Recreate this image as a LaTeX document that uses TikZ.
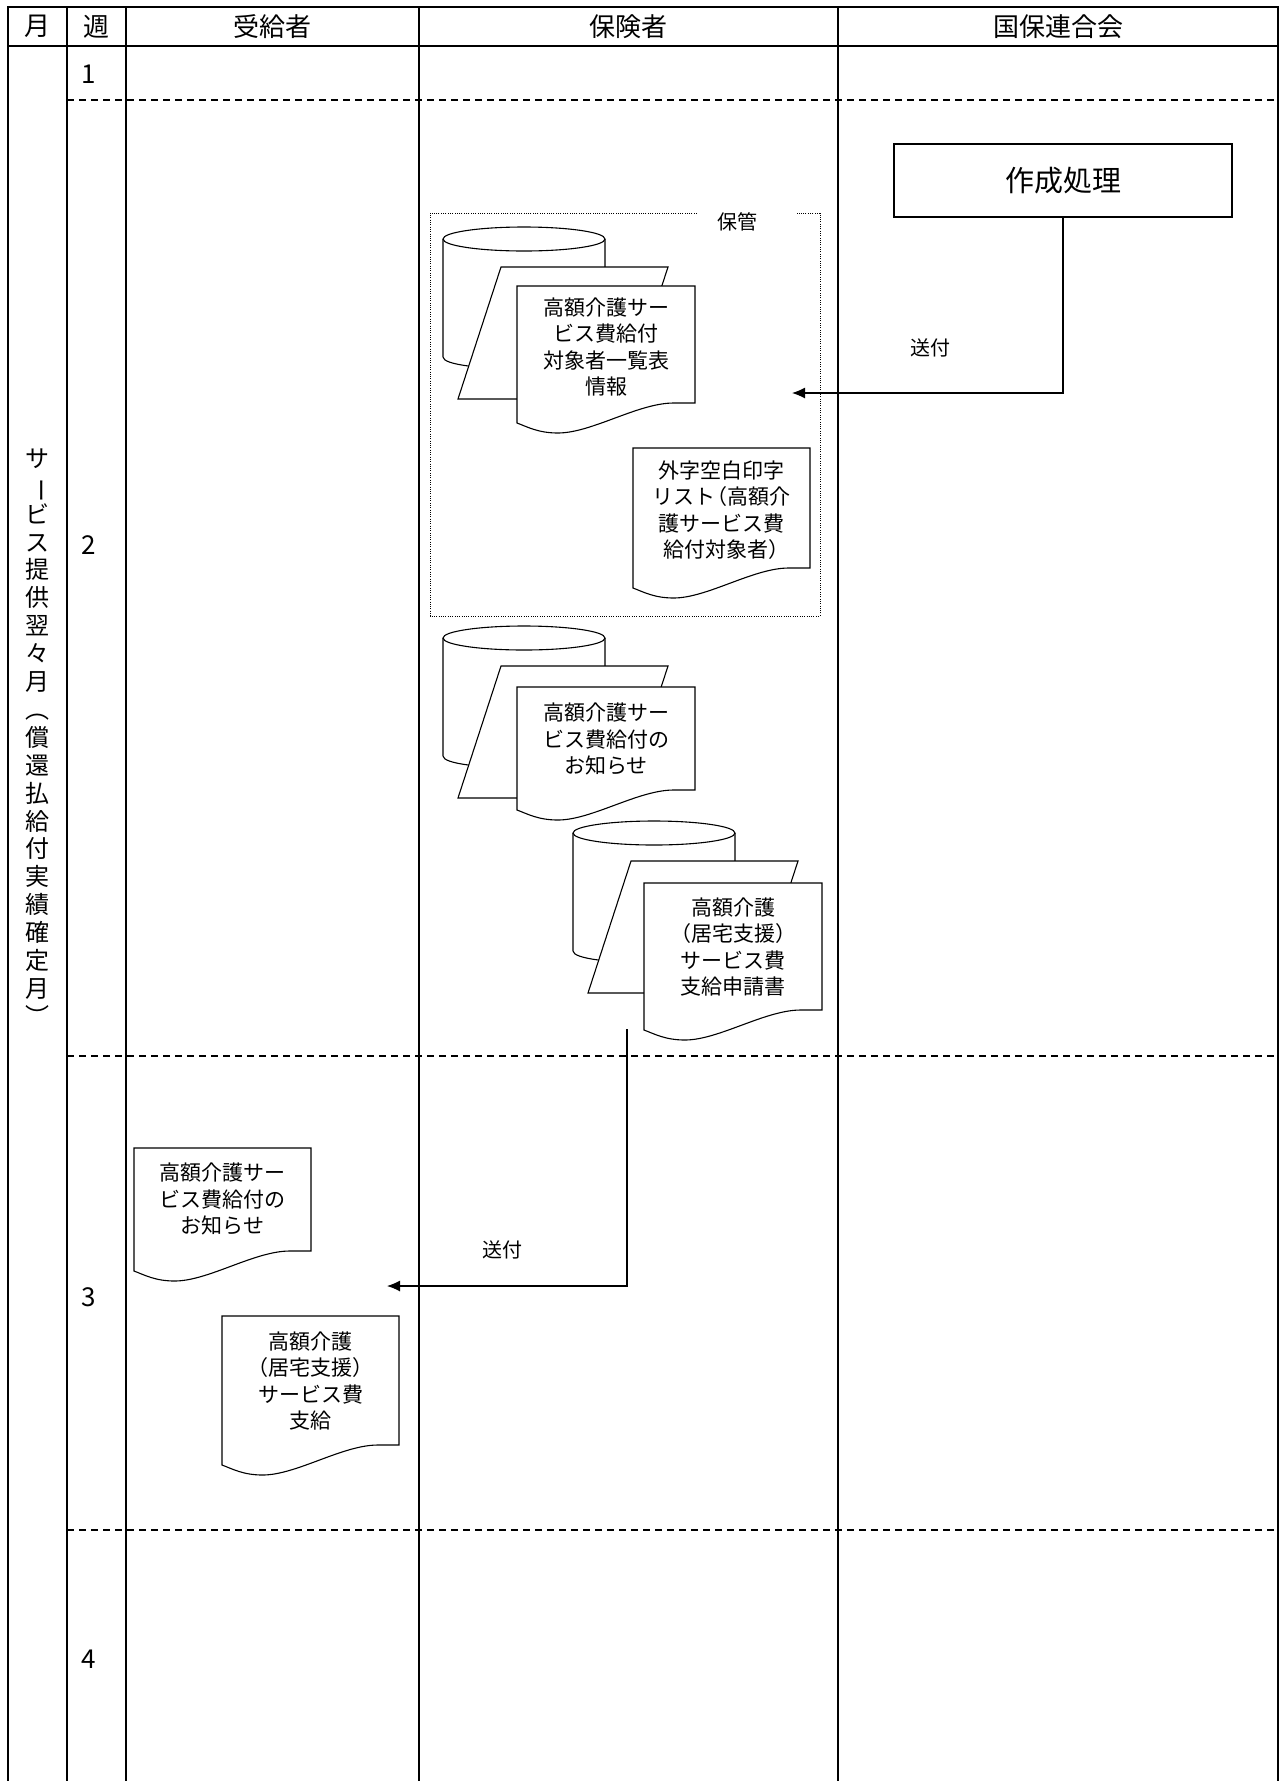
\documentclass[tikz,border=0pt]{standalone}
\usepackage{fontspec}
\usepackage{graphicx}
\setmainfont{Noto Sans CJK JP}
\usetikzlibrary{arrows.meta}
\tikzset{
 tbl/.style={line width=1.5pt},
 rowsep/.style={line width=1.3pt, dash pattern=on 7pt off 5pt},
 shp/.style={line width=1.1pt, fill=white, line join=miter},
 conn/.style={line width=1.1pt, -{Latex[length=13pt,width=11pt]}},
 doctext/.style={font=\fontsize{21}{26.5}\selectfont, align=center, inner sep=0pt},
 lbl/.style={font=\fontsize{20}{24}\selectfont, inner sep=1pt},
 hdr/.style={font=\fontsize{26}{30}\selectfont, inner sep=0pt},
 wk/.style={font=\fontsize{26}{30}\selectfont, anchor=west, inner sep=0pt},
 keep/.style={line width=1pt, dash pattern=on 1pt off 1.3pt},
 procbox/.style={draw, line width=1.3pt, minimum width=338pt, minimum height=73pt, inner sep=0pt, font=\fontsize{29}{34}\selectfont},
 vtext/.style={font=\fontsize{24}{27.9}\selectfont, align=center, inner sep=0pt}
}
\newcommand{\CylPara}[2]{%
 \draw[shp] (#1,#2+12) -- (#1,#2+130) .. controls (#1,#2+146) and (#1+162,#2+146) .. (#1+162,#2+130) -- (#1+162,#2+12);
 \draw[shp] (#1+81,#2+12) ellipse [x radius=81pt, y radius=12pt];
 \draw[shp] (#1+58,#2+40) -- (#1+225,#2+40) -- (#1+182,#2+172) -- (#1+15,#2+172) -- cycle;}
\newcommand{\DocShape}[4]{%
 \draw[shp] (#1,#2) -- (#3,#2) -- (#3,#4) -- ({#3-0.12*(#3-#1)},#4)
  .. controls ({#3-0.32*(#3-#1)},#4) and ({#1+0.42*(#3-#1)},#4+30) .. ({#1+0.23*(#3-#1)},#4+30)
  .. controls ({#1+0.12*(#3-#1)},#4+30) and ({#1+0.06*(#3-#1)},#4+24) .. (#1,#4+20) -- cycle;}
\newcommand{\VB}{\rotatebox[origin=c]{-90}{ー}}
\newcommand{\LP}{\makebox[0.55em][r]{（}}
\newcommand{\RP}{\makebox[0.55em][l]{）}}
\begin{document}
\begin{tikzpicture}[x=1pt,y=-1pt]
\useasboundingbox (0,0) rectangle (1281,1781);
% table
\draw[tbl] (8,1781) -- (8,7) -- (1278,7) -- (1278,1781);
\draw[tbl] (8,46) -- (1278,46);
\foreach \x in {67,126,419,838} \draw[tbl] (\x,7) -- (\x,1781);
\foreach \y in {100,1056,1530} \draw[rowsep] (67,\y) -- (1278,\y);
% headers
\node[hdr] (hM) at (37.5,26.5) {月};
\node[hdr] (hW) at (96.5,26.5) {週};
\node[hdr] (hA) at (272.5,26.5) {受給者};
\node[hdr] (hB) at (628.5,26.5) {保険者};
\node[hdr] (hC) at (1058,26.5) {国保連合会};
% weeks
\node[wk] (w1) at (81,74) {1};
\node[wk] (w2) at (81,545) {2};
\node[wk] (w3) at (81,1297) {3};
\node[wk] (w4) at (81,1659) {4};
% month vertical text
\node[vtext] (month) at (37.5,737) {サ\\\VB\\ビ\\ス\\提\\供\\翌\\々\\月\\︵\\償\\還\\払\\給\\付\\実\\績\\確\\定\\月\\︶};
% process box
\node[procbox] (proc) at (1063,180.5) {作成処理};
% storage box
\draw[keep] (697,213) -- (430,213) -- (430,616) -- (820,616) -- (820,213) -- (797,213);
\node[lbl] (keeplbl) at (737,222) {保管};
% group 1
\CylPara{443}{227}
\DocShape{517}{286}{695}{403}
\node[doctext] (d1) at (606,347) {高額介護サー\\ビス費給付\\対象者一覧表\\情報};
% gaiji list
\DocShape{633}{448}{810}{568}
\node[doctext] (d2) at (721.5,510) {外字空白印字\\リスト\LP 高額介\\護サービス費\\給付対象者\RP};
% group 2
\CylPara{443}{626}
\DocShape{517}{687}{695}{790}
\node[doctext] (d3) at (606,739) {高額介護サー\\ビス費給付の\\お知らせ};
% group 3
\CylPara{573}{821}
\DocShape{644}{883}{822}{1010}
\node[doctext] (d4) at (733,947) {高額介護\\\LP 居宅支援\RP\\サービス費\\支給申請書};
% receiver docs
\DocShape{134}{1148}{311}{1251}
\node[doctext] (r1) at (222.5,1199) {高額介護サー\\ビス費給付の\\お知らせ};
\DocShape{222}{1316}{399}{1445}
\node[doctext] (r2) at (310.5,1381) {高額介護\\\LP 居宅支援\RP\\サービス費\\支給};
% connectors
\coordinate (tip1) at (792,393);
\draw[conn] (proc.south) |- (tip1);
\node[lbl] (send1) at (930,348) {送付};
\coordinate (src2) at (627,1029);
\coordinate (tip2) at (387,1286);
\draw[conn] (src2) |- (tip2);
\node[lbl] (send2) at (502,1250) {送付};
\end{tikzpicture}
\end{document}
